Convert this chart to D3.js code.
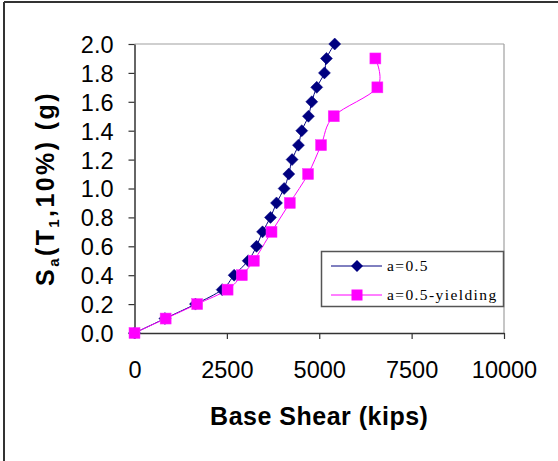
<!DOCTYPE html>
<html>
<head>
<meta charset="utf-8">
<script src="https://cdn.jsdelivr.net/npm/d3@7"></script>
<style>
  html, body { margin: 0; padding: 0; background: #fff; }
  svg { display: block; }
</style>
</head>
<body>
<svg id="chart" width="558" height="461"></svg>
<script>
// ---- data ----
const seriesNames = ["a=0.5", "a=0.5-yielding"];
const sa1 = [0, 0.1, 0.2, 0.3, 0.4, 0.5, 0.6, 0.7, 0.8, 0.9, 1.0, 1.1, 1.2, 1.3, 1.4, 1.5, 1.6, 1.7, 1.8, 1.9, 2.0];
const shear1 = [0, 824, 1650, 2373, 2697, 3076, 3303, 3465, 3681, 3843, 4050, 4176, 4265, 4437, 4527, 4707, 4797, 4932, 5140, 5195, 5419];
const sa2 = [0, 0.1, 0.2, 0.3, 0.4, 0.5, 0.7, 0.9, 1.1, 1.3, 1.5, 1.7, 1.9];
const shear2 = [0, 843, 1697, 2519, 2905, 3230, 3708, 4203, 4697, 5049, 5392, 6573, 6519];
const xTicks = [0, 2500, 5000, 7500, 10000];
const yTicks = [0, 0.2, 0.4, 0.6, 0.8, 1.0, 1.2, 1.4, 1.6, 1.8, 2.0];

const svg = d3.select("#chart");

// outer frame (left + top visible)
svg.append("line").attr("x1", 4).attr("y1", 2).attr("x2", 4).attr("y2", 461)
  .attr("stroke", "#333").attr("stroke-width", 2);
svg.append("line").attr("x1", 4).attr("y1", 2).attr("x2", 558).attr("y2", 2)
  .attr("stroke", "#333").attr("stroke-width", 2);

const x = d3.scaleLinear().domain([0, 10000]).range([134.5, 504]);
const y = d3.scaleLinear().domain([0, 2.0]).range([333, 44]);

// plot area border (top and right, grey)
svg.append("line").attr("x1", x(0)).attr("x2", x(10000)).attr("y1", y(2)).attr("y2", y(2))
  .attr("stroke", "#a0a0a0").attr("stroke-width", 1.2);
svg.append("line").attr("x1", x(10000)).attr("x2", x(10000)).attr("y1", y(2)).attr("y2", y(0))
  .attr("stroke", "#a0a0a0").attr("stroke-width", 1.2);

// axes
const xAxis = d3.axisBottom(x).tickValues(xTicks).tickFormat(d3.format("d")).tickSizeOuter(0).tickSizeInner(6).tickPadding(22);
const yAxis = d3.axisLeft(y).tickValues(yTicks).tickFormat(d3.format(".1f")).tickSizeOuter(0).tickSizeInner(6).tickPadding(15);

const gx = svg.append("g").attr("transform", `translate(0,${y(0)})`).call(xAxis);
const gy = svg.append("g").attr("transform", `translate(${x(0)},0)`).call(yAxis);
[gx, gy].forEach(g => {
  g.select(".domain").attr("stroke", "#333").attr("stroke-width", 1.5);
  g.selectAll(".tick line").attr("stroke", "#333").attr("stroke-width", 1.2);
  g.selectAll(".tick text").attr("fill", "#000")
    .style("font-family", "'Liberation Sans', Arial, sans-serif").style("font-size", "23.5px");
});
gx.selectAll(".tick text").attr("dy", "0.71em");
gy.selectAll(".tick text").attr("dy", "0.36em");

// axis titles
svg.append("text").attr("x", (x(0) + x(10000)) / 2).attr("y", 425)
  .attr("text-anchor", "middle")
  .style("font-family", "'Liberation Sans', Arial, sans-serif").style("font-size", "25px")
  .style("font-weight", "bold").style("letter-spacing", "0.5px")
  .text("Base Shear (kips)");

const yt = svg.append("text")
  .attr("transform", `translate(54,${(y(0) + y(2)) / 2}) rotate(-90)`)
  .attr("text-anchor", "middle")
  .style("font-family", "'Liberation Sans', Arial, sans-serif").style("font-size", "25px")
  .style("font-weight", "bold").style("letter-spacing", "2.4px");
yt.append("tspan").text("S");
yt.append("tspan").attr("dy", 5).style("font-size", "15px").text("a");
yt.append("tspan").attr("dy", -5).text("(T");
yt.append("tspan").attr("dy", 5).style("font-size", "15px").text("1");
yt.append("tspan").attr("dy", -5).text(",10%) (g)");

// series
const d1 = sa1.map((v, i) => ({ x: shear1[i], y: v }));
const d2 = sa2.map((v, i) => ({ x: shear2[i], y: v }));
const line = d3.line().x(d => x(d.x)).y(d => y(d.y)).curve(d3.curveCatmullRom.alpha(0));

svg.append("path").datum(d1).attr("d", line).attr("fill", "none")
  .attr("stroke", "#000080").attr("stroke-width", 1);
svg.append("path").datum(d2).attr("d", line).attr("fill", "none")
  .attr("stroke", "#ff00ff").attr("stroke-width", 1);

function diamondPath(cx, cy, r) {
  return `M${cx},${cy - r}L${cx + r},${cy}L${cx},${cy + r}L${cx - r},${cy}Z`;
}
svg.append("g").selectAll("path").data(d1).join("path")
  .attr("d", d => diamondPath(x(d.x), y(d.y), 6))
  .attr("fill", "#000080").attr("stroke", "#000080").attr("stroke-width", 0.5);

svg.append("g").selectAll("rect").data(d2).join("rect")
  .attr("x", d => x(d.x) - 5.5).attr("y", d => y(d.y) - 5.5)
  .attr("width", 11).attr("height", 11)
  .attr("fill", "#ff00ff").attr("stroke", "#ff33ff").attr("stroke-width", 0.5);

// legend
const lg = svg.append("g");
lg.append("rect").attr("x", 321.5).attr("y", 251.5).attr("width", 182).attr("height", 55)
  .attr("fill", "#fff").attr("stroke", "#555").attr("stroke-width", 1.5);
const rows = [266, 295];
const colors = ["#000080", "#ff00ff"];
seriesNames.forEach((name, i) => {
  lg.append("line").attr("x1", 331).attr("x2", 382).attr("y1", rows[i]).attr("y2", rows[i])
    .attr("stroke", colors[i]).attr("stroke-width", 1);
  if (i === 0) {
    lg.append("path").attr("d", diamondPath(357, rows[i], 6)).attr("fill", colors[i]);
  } else {
    lg.append("rect").attr("x", 357 - 5.5).attr("y", rows[i] - 5.5).attr("width", 11).attr("height", 11)
      .attr("fill", colors[i]);
  }
  lg.append("text").attr("x", 387).attr("y", rows[i] + 5)
    .style("font-family", "'Liberation Serif', 'Times New Roman', serif").style("font-size", "15.5px")
    .style("letter-spacing", "1.4px")
    .text(name);
});
</script>
</body>
</html>
